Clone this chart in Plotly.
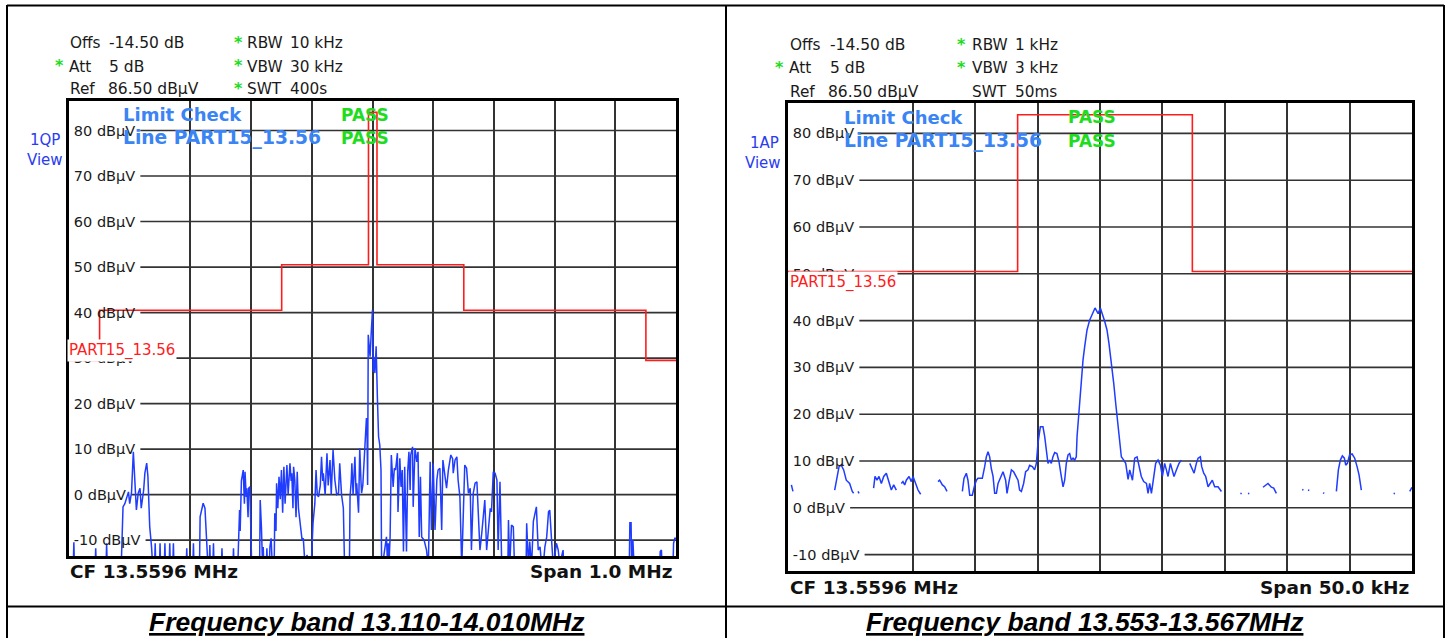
import plotly.graph_objects as go

W, H = 1450, 638

# ---------------- data ----------------
CF_MHZ = 13.5596
LEFT_SPAN_MHZ = 1.0
RIGHT_SPAN_KHZ = 50.0
REF_DBUV = 86.5
DISPLAY_RANGE_DB = 100.0
Y_TICKS = [80, 70, 60, 50, 40, 30, 20, 10, 0, -10]
Y_TICK_TEXT = [f"{v} dBµV" for v in Y_TICKS]

LIMIT_NAME = "PART15_13.56"
LIMIT_FREQ_MHZ = [13.0596, 13.110, 13.110, 13.410, 13.410, 13.553, 13.553,
                  13.567, 13.567, 13.710, 13.710, 14.010, 14.010, 14.0596]
LIMIT_DBUV = [29.5, 29.5, 40.5, 40.5, 50.5, 50.5, 84.0,
              84.0, 50.5, 50.5, 40.5, 40.5, 29.5, 29.5]

# left trace: frequency offset (kHz) from the start of the 1 MHz span, level in dBuV
LEFT_FREQ_KHZ = [
    0, 7, 8, 9, 43, 44, 45, 61, 62, 63,
    86, 87, 89, 92, 95, 98, 100, 103, 106, 108,
    109, 111, 114, 117, 119, 121, 123, 125, 128, 130,
    131, 133, 136, 138, 141, 142, 143, 149, 150, 151,
    157, 158, 159, 165, 166, 167, 171, 172, 173, 193,
    194, 195, 204, 205, 206, 215, 216, 219, 221, 224,
    227, 229, 231, 232, 233, 237, 238, 239, 251, 252,
    253, 270, 271, 272, 278, 279, 281, 282, 284, 287,
    289, 290, 292, 293, 295, 296, 298, 300, 301, 314,
    315, 317, 319, 320, 321, 325, 326, 327, 330, 331,
    333, 335, 338, 339, 341, 342, 344, 346, 348, 350,
    352, 354, 356, 359, 361, 364, 366, 367, 369, 370,
    372, 374, 376, 378, 381, 384, 386, 389, 392, 399,
    402, 405, 407, 409, 411, 414, 416, 418, 419, 422,
    425, 427, 430, 432, 435, 437, 438, 441, 444, 446,
    449, 452, 454, 462, 463, 465, 466, 468, 471, 473,
    474, 477, 479, 481, 482, 484, 485, 487, 488, 490,
    491, 492, 493, 496, 498, 500, 501, 502, 504, 506,
    508, 510, 512, 514, 515, 516, 523, 525, 526, 527,
    529, 531, 534, 536, 538, 541, 542, 545, 547, 549,
    551, 553, 556, 558, 560, 562, 563, 566, 567, 570,
    573, 575, 577, 579, 581, 585, 589, 592, 595, 597,
    600, 603, 606, 608, 611, 614, 616, 619, 622, 625,
    628, 629, 632, 633, 636, 639, 641, 644, 647, 650,
    652, 655, 658, 661, 663, 666, 669, 672, 674, 677,
    680, 683, 685, 688, 691, 694, 696, 699, 702, 705,
    707, 710, 713, 723, 724, 726, 729, 732, 734, 753,
    754, 757, 759, 762, 765, 768, 770, 773, 776, 779,
    781, 784, 787, 790, 792, 795, 798, 803, 806, 809,
    811, 812, 814, 815, 923, 924, 926, 927, 929, 931,
    973, 974, 976, 977, 995, 996, 998, 1000,
]
LEFT_DBUV = [
    -16, -16, -10.5, -16, -16, -11.8, -16, -16, -10.7, -16,
    -16, -8.6, -2.7, -2.0, -0.5, 0.6, -2.0, 0.5, 9.4, 5.0,
    0.6, -3.4, 0.3, 1.4, -3.0, -1.2, 1.0, 4.7, 6.9, 4.0,
    -1.6, -7.1, -11.5, -16, -16, -10.7, -16, -16, -10.7, -16,
    -16, -10.7, -16, -16, -10.7, -16, -16, -10.7, -16, -16,
    -11.8, -16, -16, -10.7, -16, -16, -4.9, -3.0, -1.9, -3.0,
    -9.3, -16, -16, -11.1, -16, -16, -10.7, -16, -16, -11.8,
    -16, -16, -11.8, -16, -16, -10.7, -3.4, -8.0, 3.0, 5.4,
    -2.0, 5.0, -0.5, 1.4, -5.0, 1.4, 1.7, -10.0, -16, -16,
    -1.2, -7.1, -16, -11.5, -16, -16, -11.8, -16, -16, -11.5,
    -9.6, -16, -16, -4.1, -8.0, 2.5, -3.0, 3.9, -1.0, 5.4,
    -4.0, 6.1, -2.0, 6.5, 0.0, 6.9, 3.0, 4.7, -3.0, 6.1,
    3.2, -5.0, 5.0, -3.0, -6.3, -10.0, -9.6, -16, -13.3, -16,
    -6.3, -2.0, 5.4, 0.0, -0.5, 2.0, 8.3, 3.0, 4.7, 0.0,
    9.1, 2.0, 7.6, 0.0, 9.8, 4.0, 3.2, 0.0, 0.3, 6.9,
    0.0, -3.0, -16, -16, -0.5, 3.0, 6.9, 0.0, 8.3, 0.0,
    2.5, -4.0, 10.2, 3.0, 0.3, 2.0, 4.7, 10.0, 13.5, 16.8,
    13.5, 2.1, 35.1, 30.3, 35.8, 40.6, 27.0, 30.3, 26.7, 32.6,
    21.5, 12.7, 10.9, 5.4, -16, -16, -9.3, -16, -10.7, -16,
    -9.3, 8.7, 1.7, 5.8, 5.4, 9.1, -3.8, 8.0, 1.7, 5.4,
    -12.5, 6.1, -12.5, 5.0, 9.4, 1.0, 8.7, 10.5, -2.7, 10.2,
    7.2, 9.4, -9.3, 3.9, -9.3, -10.0, -12.2, -16, 7.2, -7.8,
    6.9, -7.8, 3.2, 5.4, 5.8, -7.8, 7.6, 4.7, 1.4, 5.4,
    8.3, 8.7, 7.9, 4.7, 7.6, 8.3, 3.2, -0.5, -16, -0.5,
    6.5, 5.8, 0.3, 1.4, -12.2, 0.3, 2.5, 2.8, -3.0, -12.2,
    -8.5, -3.8, -1.2, -12.2, -7.8, -3.0, -3.8, 5.0, 4.7, 3.2,
    -12.2, 2.8, -16, -16, -5.6, -16, -6.7, -7.1, -16, -16,
    -6.3, -16, -10.3, -16, -5.9, -3.4, -2.7, -12.2, -11.5, -16,
    -16, -11.5, -9.3, -3.8, -3.4, -10.0, -16, -10.7, -12.2, -16,
    -16, -13.3, -12.2, -16, -16, -6.2, -6.2, -16, -10.0, -16,
    -16, -12.5, -12.2, -16, -16, -10.7, -9.6, -9.6,
]

# right trace: frequency offset (kHz) from the start of the 50 kHz span (None = break)
RIGHT_FREQ_KHZ = [
    0.27, 0.40, None,
    3.74, 3.87, 4.09, 4.27, 4.46, 4.67, 4.94, 5.15, 5.26, None,
    5.61, 5.69, None,
    6.86, 6.97, 7.13, 7.29, 7.48, 7.67, 7.88, 8.07, 8.28, 8.47, 8.68, None,
    9.08, 9.21, 9.35, 9.48, 9.70, 9.88, 10.02, 10.20, 10.42, 10.63, None,
    12.02, 12.15, 12.37, 12.55, 12.74, None,
    13.97, 14.10, 14.29, 14.42, 14.56, 14.77, 14.96, 15.10, 15.22, 15.57,
    15.76, 15.89, 16.03, 16.16, 16.29, 16.43, 16.56, 16.70, 16.83, 17.09,
    17.23, 17.44, 17.55, 17.71, 17.90, 18.08, 18.24, 18.43, 18.56, 18.70,
    18.88, 19.04, 19.23, 19.36, 19.58, 19.76, 19.90, 20.03, 20.22, 20.43,
    20.57, 20.70, 20.83, 20.97, 21.10, 21.23, 21.37, 21.55, 21.71, 21.90,
    22.04, 22.17, 22.30, 22.44, 22.57, 22.70, 22.84, 22.97, 23.10, 23.16,
    23.37, 23.50, 23.64, 23.77, 23.96, 24.17, 24.39, 24.60, 24.85, 25.03,
    25.38, 25.56, 25.72, 25.91, 26.10, 26.26, 26.45, 26.58, 26.71, 26.90,
    27.06, 27.25, 27.38, 27.60, 27.78, 27.97, 28.13, 28.31, 28.50, 28.72,
    28.85, 28.98, 29.12, 29.30, 29.46, 29.65, 29.84, 30.00, 30.18, 30.32,
    30.45, 30.64, 30.80, 30.93, 31.12, 31.33, 31.52, None,
    32.19, 32.40, 32.54, 32.72, 32.86, 33.04, 33.15, 33.31, 33.47, 33.66,
    33.84, 34.00, 34.19, 34.46, 34.73, None,
    36.25, 36.35, None, 36.86, 36.96, None,
    38.06, 38.28, 38.46, 38.73, 38.92, 39.13, None,
    41.20, 41.30, None, 41.67, 41.77, None, 42.87, 42.97, None,
    43.94, 44.10, 44.26, 44.42, 44.58, 44.69, 44.82, 45.00, 45.20, 45.41,
    45.60, 45.76, 45.94, None,
    48.53, 48.63, None,
    49.82, 49.95, 50.00,
]
RIGHT_DBUV = [
    4.9, 3.5, None,
    3.8, 5.9, 8.8, 9.1, 8.1, 5.9, 5.2, 3.5, 3.1, None,
    3.5, 3.1, None,
    4.2, 6.7, 5.9, 6.7, 5.2, 6.7, 7.4, 5.9, 3.8, 4.9, 3.8, None,
    5.2, 5.6, 4.9, 5.9, 6.7, 5.6, 6.7, 5.2, 3.8, 2.9, None,
    5.6, 5.9, 4.9, 4.5, 3.5, None,
    3.5, 6.3, 7.4, 5.9, 2.7, 2.7, 4.9, 5.9, 6.3, 6.3,
    8.8, 10.9, 12.0, 10.9, 8.4, 6.7, 3.1, 3.1, 5.2, 7.0,
    7.7, 5.9, 3.1, 5.6, 8.1, 7.7, 6.7, 5.9, 3.8, 3.5,
    5.2, 7.7, 8.1, 9.1, 8.8, 8.1, 9.5, 13.8, 17.3, 17.3,
    15.2, 12.4, 9.5, 10.2, 9.5, 10.9, 11.8, 11.6, 9.9, 6.7,
    4.5, 5.9, 9.5, 11.3, 11.6, 10.2, 10.6, 10.2, 10.9, 15.2,
    22.3, 28.0, 31.6, 34.4, 38.0, 40.1, 41.6, 42.7, 41.5, 42.7,
    39.8, 38.0, 35.1, 31.2, 26.6, 22.3, 17.3, 13.8, 10.9, 10.2,
    9.5, 6.1, 8.1, 5.9, 10.6, 10.9, 8.8, 6.7, 5.6, 5.2,
    3.1, 5.2, 3.1, 6.7, 9.5, 10.2, 9.1, 6.7, 9.5, 8.1,
    6.7, 9.5, 8.1, 6.7, 8.1, 9.5, 10.2, None,
    9.5, 8.1, 7.4, 9.5, 10.6, 10.9, 8.8, 7.4, 6.7, 4.5,
    5.2, 5.9, 4.5, 4.5, 3.5, None,
    3.1, 3.0, None, 3.1, 3.0, None,
    4.4, 4.9, 5.2, 4.4, 4.2, 3.1, None,
    3.9, 3.8, None, 3.8, 3.7, None, 3.2, 3.1, None,
    3.5, 8.1, 10.2, 11.1, 10.6, 9.1, 9.5, 11.3, 11.5, 10.6,
    8.8, 7.0, 3.8, None,
    3.1, 3.0, None,
    3.5, 4.2, 4.4,
]

LEFT_HEADER = [("Offs", "-14.50 dB", False), ("Att", "5 dB", True), ("Ref", "86.50 dBµV", False)]
LEFT_SETTINGS = [("RBW", "10 kHz", True), ("VBW", "30 kHz", True), ("SWT", "400s", True)]
RIGHT_HEADER = [("Offs", "-14.50 dB", False), ("Att", "5 dB", True), ("Ref", "86.50 dBµV", False)]
RIGHT_SETTINGS = [("RBW", "1 kHz", True), ("VBW", "3 kHz", True), ("SWT", "50ms", False)]
LEFT_DETECTOR = ["1QP", "View"]
RIGHT_DETECTOR = ["1AP", "View"]
LIMIT_CHECK = [("Limit Check", "PASS"), ("Line " + LIMIT_NAME, "PASS")]
CF_TEXT = "CF 13.5596 MHz"
LEFT_SPAN_TEXT = "Span 1.0 MHz"
RIGHT_SPAN_TEXT = "Span 50.0 kHz"
CAPTIONS = ["Frequency band 13.110-14.010MHz", "Frequency band 13.553-13.567MHz"]

# ---------------- styling / layout ----------------
FONT = "DejaVu Sans"
TXT = "#1a1a1a"
GREEN = "#1fdc1f"
LBLUE = "#3a84f4"
DBLUE = "#2a3cf0"
TRACE_BLUE = "#1f3cff"
RED = "#ff1c1c"
GRID = "#333333"

y_lo = REF_DBUV - DISPLAY_RANGE_DB
y_hi = REF_DBUV

CW = {**{d: 0.636 for d in "0123456789"}, " ": 0.318, "-": 0.361,
      "d": 0.635, "B": 0.686, "µ": 0.636, "V": 0.684}


def text_w(s, size):
    return sum(CW.get(c, 0.62) for c in s) * size


def fx(px):
    return px / W


def fy(py):
    return 1 - py / H


PANELS = [
    dict(box=(69, 101, 676, 556), ax="", start=CF_MHZ - LEFT_SPAN_MHZ / 2,
         span=LEFT_SPAN_MHZ, fk=LEFT_FREQ_KHZ, lv=LEFT_DBUV,
         header=LEFT_HEADER, settings=LEFT_SETTINGS, det=LEFT_DETECTOR,
         span_text=LEFT_SPAN_TEXT,
         pos=dict(c1=68, c1v=107, c1a=53, c2a=232, c2=244.5, c2v=288, rows=(43.5, 67, 89.5),
                  lc=121, pass_x=338.5, lc_rows=(114.5, 138), det_x=(28, 25), det_y=(139.5, 160),
                  cf=(68, 571.5), sp=(674.5, 571.5), lab=(67, 350.5), cap=(367, 621.5))),
    dict(box=(788, 103, 1412, 571), ax="2", start=CF_MHZ - RIGHT_SPAN_KHZ / 2000,
         span=RIGHT_SPAN_KHZ / 1000, fk=RIGHT_FREQ_KHZ, lv=RIGHT_DBUV,
         header=RIGHT_HEADER, settings=RIGHT_SETTINGS, det=RIGHT_DETECTOR,
         span_text=RIGHT_SPAN_TEXT,
         pos=dict(c1=788, c1v=828, c1a=773, c2a=955, c2=969.5, c2v=1013, rows=(45, 68.3, 91.8),
                  lc=842, pass_x=1066, lc_rows=(117, 140.5), det_x=(748, 743), det_y=(143, 163),
                  cf=(788, 587), sp=(1410.5, 587), lab=(787.5, 282.5), cap=(1085, 621.5))),
]

fig = go.Figure()
ann = []
shapes = []
layout = {}

TICK_SIZE = 14.5
STANDOFF = 5

for i, p in enumerate(PANELS):
    L, T, R, B = p["box"]
    ax = p["ax"]
    xa, ya = "x" + ax, "y" + ax
    start, span = p["start"], p["span"]
    layout["xaxis" + ax] = dict(
        domain=[fx(L), fx(R)], range=[start, start + span], anchor=ya,
        tickmode="linear", tick0=start, dtick=span / 10, showticklabels=False, ticks="",
        showgrid=True, gridcolor=GRID, gridwidth=1.6, zeroline=False,
        showline=True, mirror=True, linecolor="black", linewidth=2.5, fixedrange=True)
    layout["yaxis" + ax] = dict(
        domain=[fy(B), fy(T)], range=[y_lo, y_hi], anchor=xa,
        tickmode="array", tickvals=Y_TICKS, ticktext=Y_TICK_TEXT,
        ticklabelposition="inside", ticks="", ticklabelstandoff=STANDOFF,
        tickfont=dict(family=FONT, size=TICK_SIZE, color=TXT),
        showgrid=False, zeroline=False,
        showline=True, mirror=True, linecolor="black", linewidth=2.5, fixedrange=True)
    pw = R - L
    for v, t in zip(Y_TICKS, Y_TICK_TEXT):
        x0 = (STANDOFF + 2 + text_w(t, TICK_SIZE) + 3) / pw
        shapes.append(dict(type="line", xref=xa + " domain", yref=ya, x0=x0, x1=1, y0=v, y1=v,
                           line=dict(color=GRID, width=1.6), layer="below"))

    # limit line
    fig.add_trace(go.Scatter(x=LIMIT_FREQ_MHZ, y=LIMIT_DBUV, mode="lines", xaxis=xa, yaxis=ya,
                             line=dict(color=RED, width=1.6), hoverinfo="skip", showlegend=False))
    # spectrum trace
    xs = [None if k is None else start + k / 1000.0 for k in p["fk"]]
    fig.add_trace(go.Scatter(x=xs, y=p["lv"], mode="lines", xaxis=xa, yaxis=ya, connectgaps=False,
                             line=dict(color=TRACE_BLUE, width=1.5), hoverinfo="skip",
                             showlegend=False))

    q = p["pos"]

    def add(text, x, y, size=15.3, color=TXT, bold=False, xanchor="left", bg=None, family=FONT):
        a = dict(text=("<b>%s</b>" % text) if bold else text, x=fx(x), y=fy(y), xref="paper",
                 yref="paper", xanchor=xanchor, yanchor="middle", showarrow=False,
                 font=dict(family=family, size=size, color=color))
        if bg:
            a.update(bgcolor=bg, borderpad=1)
        ann.append(a)

    for (lab, val, star), ry in zip(p["header"], q["rows"]):
        add(lab, q["c1"] - (1 if lab == "Att" else 0), ry)
        add(val, q["c1v"] - (1.5 if lab == "Ref" else 0), ry, size=15.5)
        if star:
            add("*", q["c1a"], ry - 1, size=16, color=GREEN, bold=True)
    for (lab, val, star), ry in zip(p["settings"], q["rows"]):
        add(lab, q["c2"], ry)
        add(val, q["c2v"], ry)
        if star:
            add("*", q["c2a"], ry - 1, size=16, color=GREEN, bold=True)
    for j, ((t1, t2), ry) in enumerate(zip(LIMIT_CHECK, q["lc_rows"])):
        add(t1, q["lc"], ry, size=18 if j == 0 else 18.7, color=LBLUE, bold=True)
        add(t2, q["pass_x"], ry, size=17, color=GREEN, bold=True)
    for t, dx, dy in zip(p["det"], q["det_x"], q["det_y"]):
        add(t, dx, dy, size=15, color=DBLUE)
    add(CF_TEXT, q["cf"][0], q["cf"][1], size=18.5, bold=True, color="#111111")
    add(p["span_text"], q["sp"][0], q["sp"][1], size=18.5, bold=True, color="#111111",
        xanchor="right")
    add(LIMIT_NAME, q["lab"][0], q["lab"][1], size=15, color=RED, bg="white")
    ann.append(dict(text="<b><i><u>%s</u></i></b>" % CAPTIONS[i], x=fx(q["cap"][0]),
                    y=fy(q["cap"][1]), xref="paper", yref="paper", xanchor="center",
                    yanchor="middle", showarrow=False,
                    font=dict(family="Liberation Sans", size=26.5, color="black")))

# table frame
FR = dict(color="black", width=2)
for xv in (7, 726, 1444):
    shapes.append(dict(type="line", xref="paper", yref="paper", x0=fx(xv), x1=fx(xv),
                       y0=fy(5), y1=fy(H + 2), line=FR, layer="above"))
for yv in (5.5, 606.5):
    shapes.append(dict(type="line", xref="paper", yref="paper", x0=fx(7), x1=fx(1444),
                       y0=fy(yv), y1=fy(yv), line=FR, layer="above"))

fig.update_layout(
    width=W, height=H, margin=dict(l=0, r=0, t=0, b=0),
    paper_bgcolor="white", plot_bgcolor="white",
    showlegend=False, annotations=ann, shapes=shapes, **layout)

fig.write_html("out.html", config={"displayModeBar": False},
               post_script="document.body.style.margin='0';document.body.style.overflow='hidden';")
